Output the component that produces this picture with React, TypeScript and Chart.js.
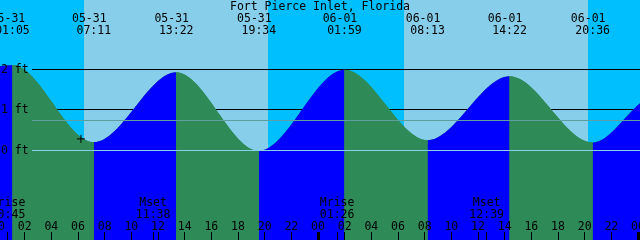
import React, { useEffect, useRef } from "react";
import { Chart, registerables } from "chart.js";

Chart.register(...registerables);

// ---- data ----
const title = "Fort Pierce Inlet, Florida";

// tide extrema (high / low), in local date + time
const eventDates = ["05-31", "05-31", "05-31", "05-31", "06-01", "06-01", "06-01", "06-01"];
const eventTimes = ["01:05", "07:11", "13:22", "19:34", "01:59", "08:13", "14:22", "20:36"];
const eventFeet = [2.11, 0.2, 1.93, -0.02, 1.99, 0.245, 1.83, 0.19];

// curve height at the left and right edges of the window
const edgeHours = [0.15, 48.15];
const edgeFeet = [2.08, 1.16];

// moon events
const moonLabels = ["Mrise", "Mset", "Mrise", "Mset"];
const moonDates = ["05-31", "05-31", "06-01", "06-01"];
const moonTimes = ["00:45", "11:38", "01:26", "12:39"];

// sun (day shading)
const sunDates = ["05-31", "06-01"];
const sunrises = ["06:27", "06:27"];
const sunsets = ["20:15", "20:15"];

// axis labels
const hourLabels = ["00", "02", "04", "06", "08", "10", "12", "14", "16", "18", "20", "22"];
const heightTicks = [0, 1, 2];
const heightLabels = ["0 ft", "1 ft", "2 ft"];
const meanLevel = 0.735;

// "now" mark on the curve
const nowHour = 6.22;
const nowFeet = 0.28;

// ---- helpers ----
const FIRST_DATE = "05-31";
function toHours(date: string, time: string): number {
  const [h, m] = time.split(":").map(Number);
  return (date === FIRST_DATE ? 0 : 24) + h + m / 60;
}

const NIGHT = "#00BFFF";
const DAY = "#87CEEB";
const FLOOD = "#0000FF";
const EBB = "#2E8B57";
const MEAN = "#5F9EA0";
const DATUM = "#87CEEB";
const FONT = '11.5px "DejaVu Sans Mono"';

const eventHours = eventDates.map((d, i) => toHours(d, eventTimes[i]));
const tidePoints = [
  { x: edgeHours[0], y: edgeFeet[0] },
  ...eventHours.map((h, i) => ({ x: h, y: eventFeet[i] })),
  { x: edgeHours[1], y: edgeFeet[1] },
];

const decorPlugin = {
  id: "tideDecor",
  beforeDraw(chart: any) {
    const { ctx, width, height } = chart;
    const xs = chart.scales.x;
    ctx.save();
    ctx.fillStyle = NIGHT;
    ctx.fillRect(0, 0, width, height);
    ctx.fillStyle = DAY;
    sunDates.forEach((d, i) => {
      const a = Math.round(xs.getPixelForValue(toHours(d, sunrises[i])));
      const b = Math.round(xs.getPixelForValue(toHours(d, sunsets[i])));
      ctx.fillRect(a, 0, b - a, height);
    });
    ctx.restore();
  },
  beforeDatasetsDraw(chart: any) {
    const { ctx, width } = chart;
    const ys = chart.scales.y;
    ctx.save();
    ctx.fillStyle = "#000";
    heightTicks.forEach((v) => {
      const y = Math.floor(ys.getPixelForValue(v));
      ctx.fillRect(32, y, width - 32, 1);
    });
    ctx.restore();
  },
  afterDatasetsDraw(chart: any) {
    const { ctx, width } = chart;
    const ys = chart.scales.y;
    ctx.save();
    ctx.fillStyle = MEAN;
    ctx.fillRect(32, Math.floor(ys.getPixelForValue(meanLevel)), width - 32, 1);
    ctx.fillStyle = DATUM;
    ctx.fillRect(32, Math.floor(ys.getPixelForValue(0)), width - 32, 1);
    ctx.restore();
  },
  afterDraw(chart: any) {
    const { ctx, width, height } = chart;
    const xs = chart.scales.x;
    const ys = chart.scales.y;
    ctx.save();
    ctx.font = FONT;
    ctx.fillStyle = "#000";
    ctx.textBaseline = "alphabetic";

    // title
    ctx.textAlign = "center";
    ctx.fillText(title, width / 2, 10);

    // tide event labels
    eventHours.forEach((h, i) => {
      const x = xs.getPixelForValue(h);
      ctx.fillText(eventDates[i], x - 4.5, 21.5);
      ctx.fillText(eventTimes[i], x, 33.5);
    });

    // height labels
    ctx.textAlign = "left";
    heightTicks.forEach((v, i) => {
      const y = ys.getPixelForValue(v);
      ctx.fillText(heightLabels[i], 1, y + 3.5);
    });

    // moon labels and ticks
    ctx.textAlign = "center";
    moonLabels.forEach((lab, i) => {
      const h = toHours(moonDates[i], moonTimes[i]);
      const x = xs.getPixelForValue(h);
      ctx.fillText(lab, x, 206);
      ctx.fillText(moonTimes[i], x, 218);
      ctx.fillRect(Math.floor(x), 232, 1, height - 232);
    });

    // hour labels and ticks
    for (let h = 0; h <= 48; h += 2) {
      const x = xs.getPixelForValue(h);
      ctx.fillText(hourLabels[(h / 2) % 12], x, 229.5);
      if (h % 24 === 0) {
        ctx.fillRect(Math.round(x) - 1, 232, 3, height - 232);
      } else {
        ctx.fillRect(Math.floor(x), 232, 1, height - 232);
      }
    }
    ctx.restore();
  },
};

export default function App() {
  const ref = useRef<HTMLCanvasElement | null>(null);

  useEffect(() => {
    document.body.style.margin = "0";
    const canvas = ref.current;
    if (!canvas) return;
    const chart = new Chart(canvas, {
      type: "line",
      data: {
        datasets: [
          {
            label: "now",
            data: [{ x: nowHour, y: nowFeet }],
            showLine: false,
            pointStyle: "cross",
            pointRadius: 4,
            pointBorderColor: "#000",
            pointBorderWidth: 1,
            pointBackgroundColor: "#000",
            order: 0,
          },
          {
            label: "tide",
            data: tidePoints,
            cubicInterpolationMode: "monotone",
            borderWidth: 0,
            borderColor: "rgba(0,0,0,0)",
            pointRadius: 0,
            backgroundColor: EBB,
            fill: "start",
            order: 1,
            segment: {
              backgroundColor: (c: any) => (c.p1.parsed.y >= c.p0.parsed.y ? FLOOD : EBB),
            },
          },
          {
            // plain underlay of the same curve, hides seams between the coloured segments
            label: "tide-underlay",
            data: tidePoints,
            cubicInterpolationMode: "monotone",
            borderWidth: 0,
            borderColor: "rgba(0,0,0,0)",
            pointRadius: 0,
            backgroundColor: EBB,
            fill: "start",
            order: 2,
          },
        ],
      } as any,
      options: {
        animation: false,
        responsive: false,
        maintainAspectRatio: false,
        layout: { padding: 0, autoPadding: false },
        plugins: {
          legend: { display: false },
          tooltip: { enabled: false },
        },
        events: [],
        scales: {
          x: { type: "linear", min: edgeHours[0], max: edgeHours[1], display: false },
          y: { type: "linear", min: -2.223, max: 3.718, display: false },
        },
      } as any,
      plugins: [decorPlugin],
    });
    return () => chart.destroy();
  }, []);

  return (
    <canvas ref={ref} width={640} height={240} style={{ display: "block", width: 640, height: 240 }} />
  );
}
